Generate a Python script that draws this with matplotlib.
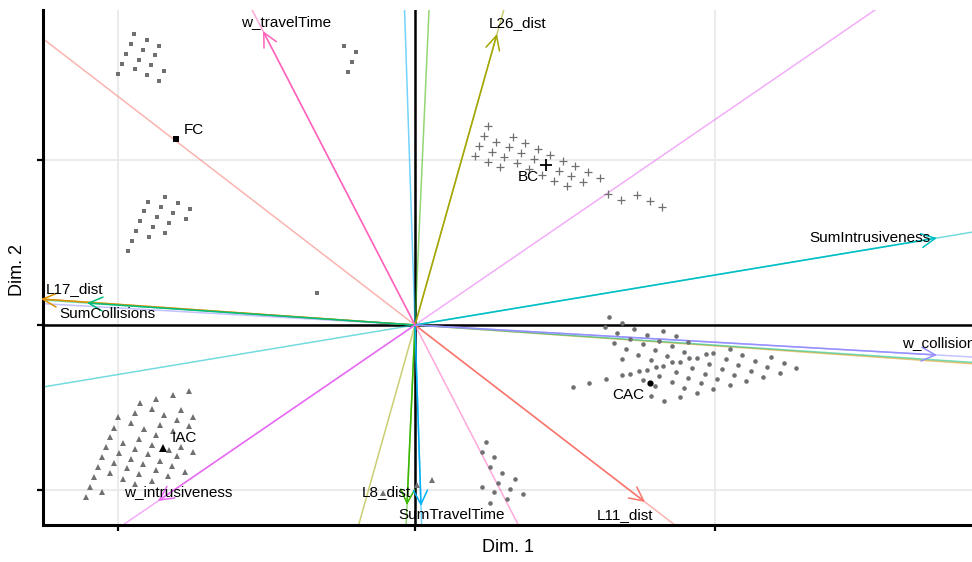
import matplotlib
matplotlib.use("Agg")
import matplotlib.pyplot as plt
import numpy as np

plt.rcParams['font.family'] = ['Liberation Sans', 'DejaVu Sans']

# ---------------- individuals (Dim.1, Dim.2) ----------------
fc_x = [-2.81, -2.84, -2.68, -2.56, -2.72, -2.89, -2.60, -2.76, -2.93, -2.64, -2.80, -2.51, -2.97, -2.68, -2.56,
        -2.50, -2.67, -2.37, -2.54, -2.25, -2.71, -2.42, -2.58, -2.29, -2.75, -2.46, -2.62, -2.79, -2.50, -2.66,
        -2.83, -2.87, -0.71, -0.59, -0.63, -0.67, -0.98]
fc_y = [2.91, 2.81, 2.85, 2.79, 2.75, 2.71, 2.70, 2.65, 2.61, 2.60, 2.56, 2.54, 2.51, 2.50, 2.44,
        1.28, 1.23, 1.22, 1.18, 1.16, 1.14, 1.12, 1.08, 1.06, 1.04, 1.02, 0.98, 0.94, 0.92, 0.88,
        0.84, 0.74, 2.79, 2.73, 2.63, 2.53, 0.32]

bc_x = [0.73, 0.69, 0.98, 0.64, 0.81, 1.10, 0.94, 1.23, 0.77, 1.06, 1.35, 0.60, 0.89, 1.19, 1.48, 0.73, 1.02,
        1.60, 0.85, 1.14, 1.44, 1.73, 1.27, 1.56, 1.85, 1.39, 1.68, 1.52, 1.93, 2.06, 2.22, 2.35, 2.47]
bc_y = [1.99, 1.89, 1.88, 1.79, 1.83, 1.82, 1.78, 1.76, 1.73, 1.72, 1.70, 1.69, 1.68, 1.66, 1.64, 1.63, 1.62,
        1.59, 1.58, 1.56, 1.54, 1.53, 1.50, 1.49, 1.47, 1.44, 1.43, 1.39, 1.31, 1.25, 1.30, 1.24, 1.18]

cac_x = [1.94, 2.07, 1.90, 2.19, 2.02, 2.32, 2.15, 1.99, 2.28, 2.40, 2.11, 2.23, 2.07, 2.36, 2.32, 2.24, 2.15,
         2.07, 1.91, 1.74, 1.58, 2.28, 2.40, 2.36,
         2.48, 2.61, 2.44, 2.73, 2.57, 2.69, 2.98, 2.91, 3.15, 2.82, 2.74, 2.52, 2.65, 2.57, 2.48, 2.41, 2.94,
         3.11, 3.27, 3.40, 3.56, 3.69, 3.52, 3.36, 3.23, 3.07, 2.77, 2.61, 2.44, 2.90, 2.73, 2.57, 2.69, 2.86,
         3.02, 3.19, 3.31, 3.48, 3.65, 3.81, 3.15, 2.98, 2.82, 2.65, 2.49,
         0.71, 0.67, 0.79, 0.75, 0.87, 1.00, 0.67, 0.83, 0.95, 1.08, 0.79, 0.92, 0.75]
cac_y = [0.08, 0.02, -0.02, -0.04, -0.08, -0.10, -0.14, -0.18, -0.19, -0.25, -0.24, -0.30, -0.34, -0.35, -0.45,
         -0.46, -0.49, -0.50, -0.54, -0.58, -0.62, -0.55, -0.61, -0.71,
         -0.06, -0.11, -0.16, -0.17, -0.21, -0.27, -0.28, -0.29, -0.24, -0.33, -0.33, -0.31, -0.37, -0.37, -0.41,
         -0.42, -0.39, -0.34, -0.30, -0.36, -0.32, -0.38, -0.42, -0.46, -0.40, -0.44, -0.43, -0.47, -0.51, -0.49,
         -0.53, -0.57, -0.63, -0.58, -0.54, -0.50, -0.56, -0.52, -0.48, -0.43, -0.60, -0.64, -0.68, -0.72, -0.76,
         -1.17, -1.27, -1.32, -1.42, -1.48, -1.54, -1.62, -1.58, -1.64, -1.69, -1.67, -1.74, -1.78]

iac_x = [-2.26, -2.42, -2.59, -2.75, -2.34, -2.51, -2.63, -2.80, -2.22, -2.97, -2.38, -2.55, -2.71, -2.84, -3.01,
         -2.26, -2.42, -2.59, -2.76, -3.05, -2.92, -2.63, -2.34, -2.46, -2.80, -3.09, -2.22, -2.96, -2.38, -2.55,
         -2.67, -2.84, -3.13, -3.01, -2.72, -2.43, -2.59, -2.30, -2.88, -3.17, -2.47, -2.76, -3.05, -2.63, -2.92,
         -3.21, -2.80, -3.25, -3.13, -3.29, 0.17, -0.32, 0.02]
iac_y = [-0.66, -0.70, -0.74, -0.78, -0.85, -0.90, -0.84, -0.88, -0.92, -0.92, -0.95, -1.00, -1.04, -0.98, -1.03,
         -1.01, -1.06, -1.10, -1.14, -1.12, -1.18, -1.20, -1.22, -1.25, -1.24, -1.22, -1.27, -1.28, -1.31, -1.36,
         -1.29, -1.34, -1.32, -1.38, -1.39, -1.41, -1.45, -1.47, -1.43, -1.42, -1.51, -1.49, -1.48, -1.56, -1.54,
         -1.52, -1.59, -1.62, -1.67, -1.72, -1.55, -1.68, -1.60]

# group means and labels
groups = ["FC", "BC", "CAC", "IAC"]
group_mean_x = [-2.39, 1.31, 2.35, -2.52]
group_mean_y = [1.86, 1.60, -0.58, -1.23]
group_label_x = [-2.21, 1.13, 2.13, -2.31]
group_label_y = [1.95, 1.48, -0.70, -1.13]

# ---------------- variables ----------------
var_names = ["L11_dist", "L17_dist", "L26_dist", "L8_dist", "SumCollisions", "SumIntrusiveness",
             "SumTravelTime", "w_collisions", "w_intrusiveness", "w_travelTime"]
var_x = [2.30, -3.74, 0.82, -0.08, -3.28, 5.22, 0.06, 5.22, -2.57, -1.52]
var_y = [-1.77, 0.26, 2.91, -1.80, 0.22, 0.87, -1.81, -0.30, -1.76, 2.94]
var_colors = ["#F8766D", "#D89000", "#A3A500", "#39B600", "#00BF7D", "#00BFC4",
              "#00B0F6", "#9590FF", "#E76BF3", "#FF62BC"]
var_label_x = [2.10, -3.69, 1.03, -0.29, -3.08, 4.55, 0.37, 4.87, -2.37, -1.29]
var_label_y = [-1.90, 0.36, 3.02, -1.67, 0.11, 0.87, -1.90, -0.18, -1.67, 3.03]
var_label_ha = ["center", "left", "center", "center", "center", "center", "center", "left", "center", "center"]

x_ticks = [-2.97, 0.0, 3.0]
y_ticks = [-1.65, 0.0, 1.65]
x_lim = (-3.72, 5.57)
y_lim = (-2.00, 3.15)

# ---------------- figure ----------------
W, H = 972, 562
fig = plt.figure(figsize=(W / 100, H / 100), dpi=100)
ax = fig.add_axes([43 / W, 37 / H, (W - 43) / W, 515 / H])
ax.set_xlim(*x_lim)
ax.set_ylim(*y_lim)

ax.set_xticks(x_ticks)
ax.set_yticks(y_ticks)
ax.set_xticklabels([])
ax.set_yticklabels([])
ax.grid(True, color="#EBEBEB", lw=1.4, zorder=0)
ax.set_axisbelow(True)
ax.tick_params(length=4, width=1.6, color="black", direction="out")
for s in ["top", "right"]:
    ax.spines[s].set_visible(False)
for s in ["left", "bottom"]:
    ax.spines[s].set_linewidth(2.2)
    ax.spines[s].set_color("black")

ax.axhline(0, color="black", lw=1.8, zorder=1)
ax.axvline(0, color="black", lw=1.8, zorder=1)

# variable lines and arrows
for name, vx, vy, c, lx, ly, ha in zip(var_names, var_x, var_y, var_colors,
                                       var_label_x, var_label_y, var_label_ha):
    ax.axline((0, 0), (vx, vy), color=c, lw=1.1, alpha=0.55, zorder=2)
    ax.annotate("", xy=(vx, vy), xytext=(0, 0),
                arrowprops=dict(arrowstyle="->,head_length=0.5,head_width=0.25",
                                color=c, lw=1.1, mutation_scale=20,
                                shrinkA=0, shrinkB=0),
                zorder=3, annotation_clip=False)
    ax.text(lx, ly, name, ha=ha, va="center", fontsize=11, color="black",
            zorder=5, clip_on=False)

grey = "#707070"
ax.plot(fc_x, fc_y, ls="none", marker="s", ms=3.0, color=grey, mew=0, zorder=4)
ax.plot(bc_x, bc_y, ls="none", marker="+", ms=5.5, color=grey, mew=0.9, zorder=4)
ax.plot(cac_x, cac_y, ls="none", marker="o", ms=3.3, color=grey, mew=0, zorder=4)
ax.plot(iac_x, iac_y, ls="none", marker="^", ms=4.2, color=grey, mew=0, zorder=4)

mean_markers = ["s", "+", "o", "^"]
mean_sizes = [4.5, 8, 4.5, 5.5]
for g, mx, my, mk, msz, lx, ly in zip(groups, group_mean_x, group_mean_y, mean_markers,
                                     mean_sizes, group_label_x, group_label_y):
    ax.plot([mx], [my], ls="none", marker=mk, ms=msz, color="black",
            mew=1.3 if mk == "+" else 0, zorder=6)
    ax.text(lx, ly, g, ha="center", va="center", fontsize=11, color="black", zorder=6)

fig.text((43 + W) / 2 / W, 1 - 548 / H, "Dim. 1", ha="center", va="center", fontsize=13)
fig.text(18 / W, 1 - 270 / H, "Dim. 2", ha="center", va="center", fontsize=13, rotation=90)

fig.savefig("out.png", dpi=100)
